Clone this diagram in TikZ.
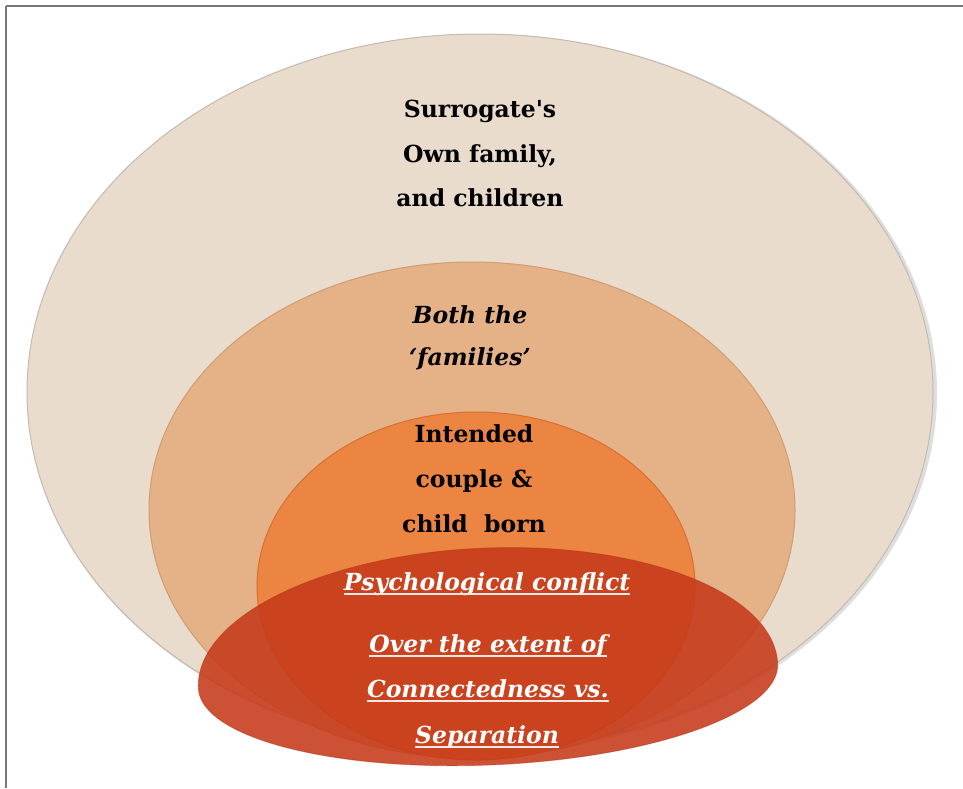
\documentclass[tikz,border=0pt]{standalone}
\usepackage{fontspec}
\setmainfont{DejaVu Serif}
\definecolor{beige}{RGB}{233,220,204}
\definecolor{beigeedge}{RGB}{196,186,175}
\definecolor{tanfill}{RGB}{229,177,134}
\definecolor{tanedge}{RGB}{208,156,114}
\definecolor{orng}{RGB}{236,132,66}
\definecolor{orngedge}{RGB}{214,112,52}
\definecolor{redd}{RGB}{198,58,26}
\definecolor{framegray}{RGB}{120,120,120}
\tikzset{
  blacktxt/.style={inner sep=0pt, anchor=base, text=black, font=\bfseries\fontsize{23.5}{28}\selectfont},
  blackit/.style={inner sep=0pt, anchor=base, text=black, font=\bfseries\itshape\fontsize{23.5}{28}\selectfont},
  whiteit/.style={inner sep=0pt, anchor=base, text=white, font=\bfseries\itshape\fontsize{23.5}{28}\selectfont},
  uline/.style={draw=white!88!redd, line width=1.1pt},
}
\begin{document}
\begin{tikzpicture}[x=1pt,y=-1pt]
\useasboundingbox (0,0) rectangle (963,788);
\fill[white] (0,0) rectangle (963,788);
% frame
\draw[framegray, line width=1.4pt] (6,6) -- (963,6);
\draw[framegray, line width=1.4pt] (6,6) -- (6,788);
% outer ellipse
\fill[black!25, opacity=0.5] (482,393) ellipse [x radius=455, y radius=359];
\fill[beige] (480,392) ellipse [x radius=453, y radius=358];
\draw[beigeedge, line width=1pt] (480,392) ellipse [x radius=453, y radius=358];
% middle ellipse
\fill[tanfill] (472,510) ellipse [x radius=323, y radius=248];
\draw[tanedge, line width=1pt] (472,510) ellipse [x radius=323, y radius=248];
% orange circle
\fill[orng] (476,586) ellipse [x radius=219, y radius=174];
\draw[orngedge, line width=1pt] (476,586) ellipse [x radius=219, y radius=174];
% red ellipse (egg-like, slightly tilted)
\fill[redd, fill opacity=0.88, rotate around={2.4:(488,676)}]
  (198,676) arc[start angle=180, end angle=360, x radius=290, y radius=128]
            arc[start angle=0, end angle=180, x radius=290, y radius=89] -- cycle;
\draw[redd!85!black, opacity=0.4, line width=0.8pt, rotate around={2.4:(488,676)}]
  (198,676) arc[start angle=180, end angle=360, x radius=290, y radius=128]
            arc[start angle=0, end angle=180, x radius=290, y radius=89] -- cycle;
% texts
\node[blacktxt] (s1) at (480,117) {Surrogate\textquotesingle s};
\node[blacktxt] (s2) at (480,162) {Own family,};
\node[blacktxt] (s3) at (480,206) {and children};
\node[blackit] (b1) at (470,323) {Both the};
\node[blackit] (b2) at (470,365) {`families'};
\node[blacktxt] (i1) at (474,442) {Intended};
\node[blacktxt] (i2) at (474,487) {couple \&};
\node[blacktxt] (i3) at (474,532) {child\ \ born};
\node[whiteit] (p1) at (487,590) {Psychological conflict};
\node[whiteit] (p2) at (488,652) {Over the extent of};
\node[whiteit] (p3) at (488,697) {Connectedness vs.};
\node[whiteit] (p4) at (487,743) {Separation};
\foreach \n in {p1,p2,p3,p4}
  \draw[uline] ([yshift=-4pt]\n.base west) -- ([yshift=-4pt]\n.base east);
\end{tikzpicture}
\end{document}
